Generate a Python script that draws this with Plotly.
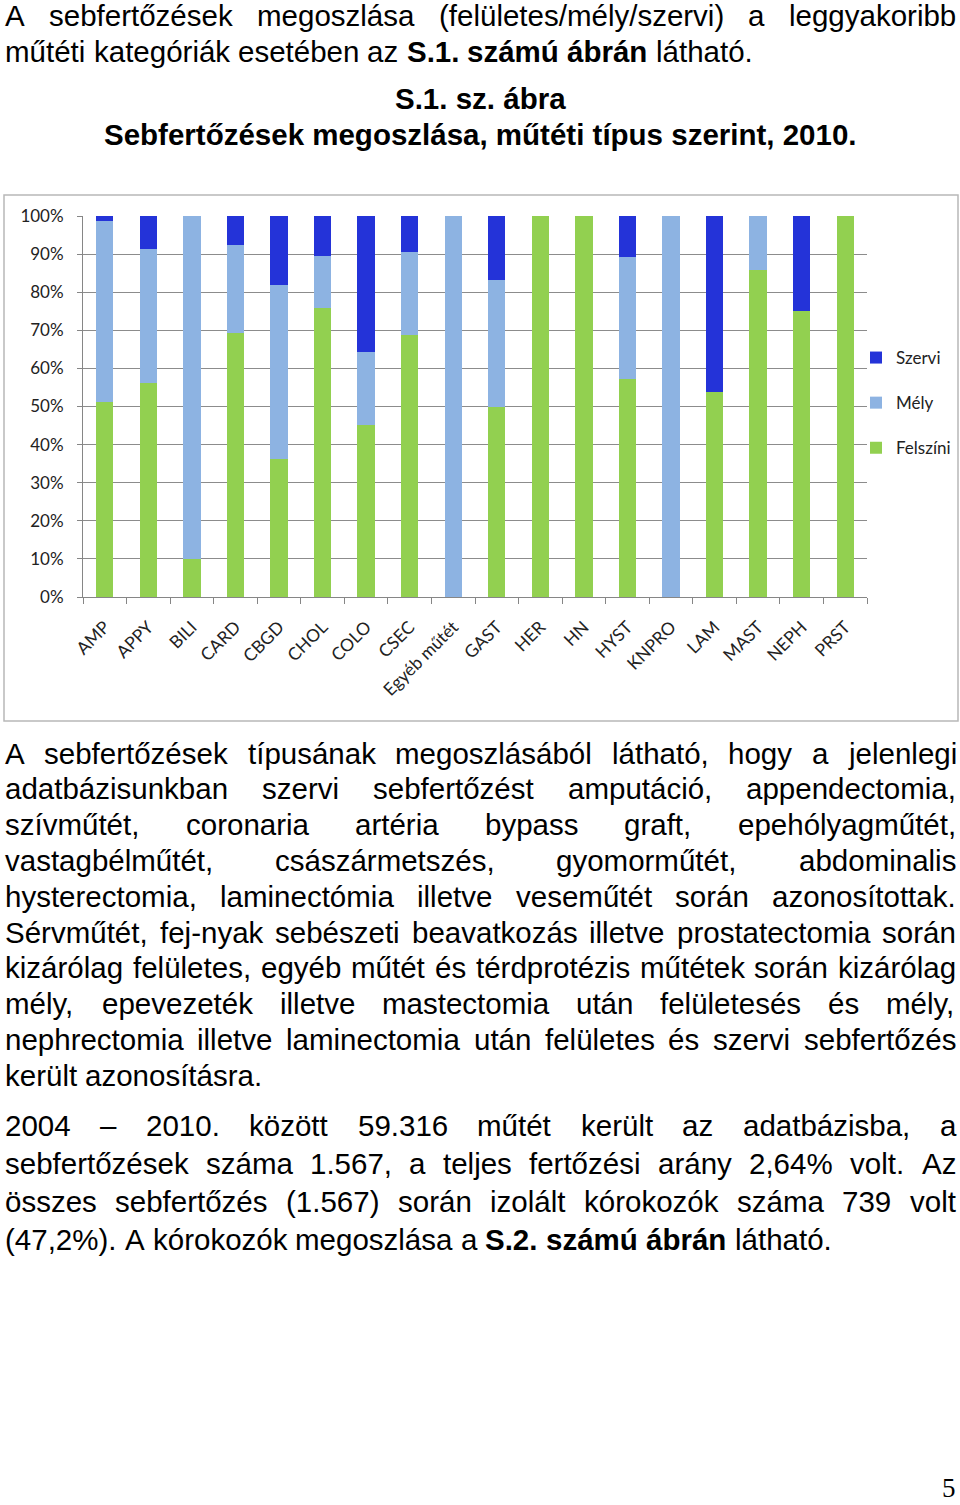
import plotly.graph_objects as go

# chart data (percent share of infection types per surgery category, 2010)
categories = ["AMP", "APPY", "BILI", "CARD", "CBGD", "CHOL", "COLO", "CSEC", "Egyéb műtét",
              "GAST", "HER", "HN", "HYST", "KNPRO", "LAM", "MAST", "NEPH", "PRST"]
felszini = [51.2, 56.3, 10.0, 69.3, 36.3, 75.9, 45.2, 68.7, 0.0,
            50.0, 100.0, 100.0, 57.1, 0.0, 53.7, 85.7, 75.0, 100.0]
mely = [47.5, 35.0, 90.0, 23.0, 45.5, 13.7, 19.0, 21.9, 100.0,
        33.2, 0.0, 0.0, 32.1, 100.0, 0.0, 14.3, 0.0, 0.0]
szervi = [1.3, 8.7, 0.0, 7.7, 18.2, 10.4, 35.8, 9.4, 0.0,
          16.8, 0.0, 0.0, 10.8, 0.0, 46.3, 0.0, 25.0, 0.0]

# page text; "*" marks a bold word
top_par = [
    "A sebfertőzések megoszlása (felületes/mély/szervi) a leggyakoribb",
    "műtéti kategóriák esetében az *S.1. *számú *ábrán látható.",
]
titles = ["S.1. sz. ábra", "Sebfertőzések megoszlása, műtéti típus szerint, 2010."]
par2 = [
    "A sebfertőzések típusának megoszlásából látható, hogy a jelenlegi",
    "adatbázisunkban szervi sebfertőzést amputáció, appendectomia,",
    "szívműtét, coronaria artéria bypass graft, epehólyagműtét,",
    "vastagbélműtét, császármetszés, gyomorműtét, abdominalis",
    "hysterectomia, laminectómia illetve veseműtét során azonosítottak.",
    "Sérvműtét, fej-nyak sebészeti beavatkozás illetve prostatectomia során",
    "kizárólag felületes, egyéb műtét és térdprotézis műtétek során kizárólag",
    "mély, epevezeték illetve mastectomia után felületesés és mély,",
    "nephrectomia illetve laminectomia után felületes és szervi sebfertőzés",
    "került azonosításra.",
]
par3 = [
    "2004 – 2010. között 59.316 műtét került az adatbázisba, a",
    "sebfertőzések száma 1.567, a teljes fertőzési arány 2,64% volt. Az",
    "összes sebfertőzés (1.567) során izolált kórokozók száma 739 volt",
    "(47,2%). A kórokozók megoszlása a *S.2. *számú *ábrán látható.",
]
page_number = "5"

GREEN = "#92d050"
LIGHT = "#8db3e2"
DARK = "#2433d8"
GRID = "#8c8c8c"

W, H = 960, 1505
L, R, T, B = 83, 867, 216, 597  # plot area in pixels
FS = 29.5
TEXT_FONT = "Liberation Sans"
LEFT, RIGHT = 4, 955


def px(x):
    return (x - L) / (R - L)


def py(y):
    return (B - y) / (B - T)


# Arial / Liberation Sans advance widths (1/1000 em)
REG_W = {" ": 278, "%": 889, "(": 333, ")": 333, ",": 278, "-": 333, ".": 278, "/": 278,
         "–": 556, "A": 667, "S": 667, "É": 667,
         "a": 556, "b": 556, "c": 500, "d": 556, "e": 556, "f": 278, "g": 556, "h": 556,
         "i": 222, "j": 222, "k": 500, "l": 222, "m": 833, "n": 556, "o": 556, "p": 556,
         "r": 333, "s": 500, "t": 278, "u": 556, "v": 500, "y": 500, "z": 500,
         "á": 556, "é": 556, "í": 278, "ó": 556, "ö": 556, "ő": 556, "ú": 556, "ü": 556, "ű": 556}
BOLD_W = {" ": 278, ".": 278, ",": 278, "S": 667, "a": 556, "b": 611, "e": 556, "f": 333,
          "i": 278, "k": 556, "l": 278, "m": 889, "n": 611, "o": 611, "p": 611, "r": 389,
          "s": 556, "t": 333, "u": 611, "z": 500, "á": 556, "é": 556, "í": 278, "ő": 611,
          "ú": 611, "ű": 611}


def word_width(w, bold):
    table = BOLD_W if bold else REG_W
    return sum(table.get(ch, 556) for ch in w) * FS / 1000


fig = go.Figure()
for name, vals, color, rank in [("Felszíni", felszini, GREEN, 3), ("Mély", mely, LIGHT, 2),
                                ("Szervi", szervi, DARK, 1)]:
    fig.add_trace(go.Bar(x=categories, y=vals, name=name, marker_color=color,
                         marker_line_width=0, legendgroup=name, legendrank=rank))


def place_line(line, y, justify):
    words = [(w[1:], True) if w.startswith("*") else (w, False) for w in line.split()]
    widths = [word_width(w, b) for w, b in words]
    if justify and len(words) > 1:
        gap = (RIGHT - LEFT - sum(widths)) / (len(words) - 1)
    else:
        gap = 278 * FS / 1000
    x = LEFT
    for (w, b), wd in zip(words, widths):
        fig.add_annotation(x=px(x), y=py(y), text=f"<b>{w}</b>" if b else w,
                           xref="paper", yref="paper", xanchor="left", yanchor="middle",
                           showarrow=False, borderpad=0,
                           font=dict(family=TEXT_FONT, size=FS, color="black"))
        x += wd + gap


def place_par(lines, y0, step):
    for i, line in enumerate(lines):
        place_line(line, y0 + i * step, i < len(lines) - 1)


place_par(top_par, 15, 36)
place_par(par2, 753, 35.8)
place_par(par3, 1125, 38)

for i, t in enumerate(titles):
    fig.add_annotation(x=px(480), y=py(98 + 36 * i), text=f"<b>{t}</b>", xref="paper", yref="paper",
                       xanchor="center", yanchor="middle", showarrow=False, borderpad=0,
                       font=dict(family=TEXT_FONT, size=FS, color="black"))

fig.add_annotation(x=px(949), y=py(1504), text=page_number, xref="paper", yref="paper",
                   xanchor="center", yanchor="bottom", showarrow=False, borderpad=0,
                   font=dict(family="Liberation Serif", size=27, color="black"))

# chart frame
fig.add_shape(type="rect", xref="paper", yref="paper", x0=px(4), x1=px(958), y0=py(721), y1=py(195),
              line=dict(color="#b8b8b8", width=1.5), fillcolor="rgba(0,0,0,0)", layer="below")

fig.update_layout(
    width=W, height=H, autosize=False,
    margin=dict(l=L, r=W - R, t=T, b=H - B, pad=0, autoexpand=False),
    paper_bgcolor="white", plot_bgcolor="white",
    barmode="stack", bargap=0.6,
    showlegend=True,
    legend=dict(x=px(856), y=py(403), xanchor="left", yanchor="middle",
                traceorder="grouped", tracegroupgap=20, itemwidth=30,
                font=dict(family="Lato", size=17, color="#222222"), bgcolor="rgba(0,0,0,0)"),
    xaxis=dict(type="category", tickangle=-45, tickson="boundaries", ticks="outside", ticklen=6,
               tickcolor="#868686", showline=True, linecolor="#868686", showgrid=False,
               ticklabelstandoff=12,
               tickfont=dict(family="Lato", size=17.5, color="#222222")),
    yaxis=dict(range=[0, 100], dtick=10, ticksuffix="%", showgrid=True, gridcolor=GRID, gridwidth=1,
               ticks="outside", ticklen=5, tickcolor="#868686", showline=True, linecolor="#868686",
               zeroline=False, ticklabelstandoff=10,
               tickfont=dict(family="Lato", size=17, color="#222222")),
)

fig.write_html("out.html", config={"displayModeBar": False},
               post_script="document.body.style.margin = '0px';")
